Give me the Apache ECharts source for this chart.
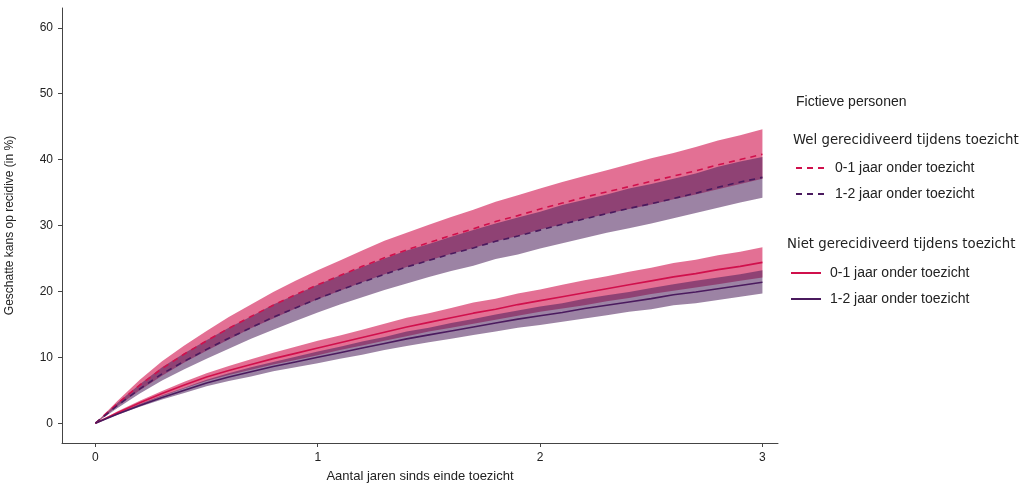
<!DOCTYPE html>
<html>
<head>
<meta charset="utf-8">
<script src="https://cdn.jsdelivr.net/npm/echarts@6/dist/echarts.min.js"></script>
<style>html,body{margin:0;padding:0;background:#fff}#c{width:1021px;height:486px}</style>
</head>
<body>
<div id="c"></div>
<script>
const years = [0,0.1,0.2,0.3,0.4,0.5,0.6,0.7,0.8,0.9,1.0,1.1,1.2,1.3,1.4,1.5,1.6,1.7,1.8,1.9,2.0,2.1,2.2,2.3,2.4,2.5,2.6,2.7,2.8,2.9,3.0];
const xTicks = [0,1,2,3];
const yTicks = [0,10,20,30,40,50,60];

// Wel gerecidiveerd, 0-1 jaar onder toezicht
const wel01 = [0,3.0,5.8,8.3,10.5,12.5,14.4,16.2,17.9,19.5,21.0,22.4,23.8,25.1,26.3,27.4,28.5,29.5,30.6,31.5,32.5,33.4,34.3,35.1,35.9,36.7,37.5,38.3,39.2,40.0,40.8];
const wel01Hi = [0,3.4,6.6,9.4,11.8,14.0,16.1,18.0,19.9,21.6,23.2,24.7,26.2,27.7,28.9,30.1,31.3,32.4,33.6,34.6,35.6,36.6,37.5,38.4,39.3,40.2,41.0,41.9,42.9,43.7,44.6];
const wel01Lo = [0,2.6,5.0,7.2,9.2,11.0,12.7,14.4,15.9,17.4,18.8,20.1,21.4,22.6,23.7,24.7,25.7,26.6,27.6,28.4,29.4,30.2,31.0,31.8,32.5,33.2,34.0,34.7,35.5,36.3,37.1];
// Wel gerecidiveerd, 1-2 jaar onder toezicht
const wel12 = [0,2.7,5.2,7.5,9.4,11.2,12.9,14.5,16.1,17.5,18.9,20.2,21.4,22.6,23.7,24.7,25.7,26.6,27.6,28.4,29.3,30.2,31.0,31.8,32.6,33.3,34.1,34.9,35.8,36.6,37.3];
const wel12Hi = [0,3.1,5.9,8.5,10.6,12.6,14.5,16.2,18.0,19.5,21.0,22.4,23.7,25.0,26.2,27.2,28.3,29.3,30.3,31.2,32.1,33.1,33.9,34.7,35.6,36.3,37.1,37.9,38.9,39.7,40.4];
const wel12Lo = [0,2.3,4.5,6.5,8.2,9.8,11.3,12.8,14.2,15.5,16.8,18.0,19.1,20.2,21.2,22.2,23.1,23.9,24.9,25.6,26.5,27.3,28.1,28.9,29.6,30.3,31.1,31.9,32.7,33.5,34.2];
// Niet gerecidiveerd, 0-1 jaar onder toezicht
const niet01 = [0,1.6,3.1,4.5,5.8,7.0,8.0,8.9,9.8,10.6,11.4,12.2,13.0,13.8,14.6,15.3,16.0,16.7,17.3,18.0,18.6,19.2,19.8,20.4,21.0,21.6,22.2,22.7,23.3,23.8,24.4];
const niet01Hi = [0,1.8,3.4,4.9,6.3,7.6,8.7,9.7,10.7,11.6,12.5,13.3,14.2,15.1,16.0,16.7,17.5,18.3,18.9,19.7,20.3,21.0,21.7,22.3,23.0,23.6,24.3,24.8,25.5,26.0,26.7];
const niet01Lo = [0,1.4,2.8,4.1,5.3,6.4,7.3,8.1,8.9,9.6,10.3,11.1,11.8,12.5,13.2,13.9,14.5,15.1,15.7,16.3,16.9,17.4,17.9,18.5,19.0,19.6,20.1,20.6,21.1,21.6,22.1];
// Niet gerecidiveerd, 1-2 jaar onder toezicht
const niet12 = [0,1.4,2.7,3.9,5.0,6.1,7.0,7.8,8.6,9.3,10.0,10.7,11.4,12.1,12.8,13.4,14.0,14.6,15.2,15.8,16.3,16.8,17.4,17.9,18.4,18.9,19.5,19.9,20.4,20.9,21.4];
const niet12Hi = [0,1.5,2.9,4.2,5.4,6.6,7.6,8.5,9.3,10.1,10.9,11.6,12.4,13.1,13.9,14.5,15.2,15.8,16.5,17.1,17.7,18.2,18.9,19.4,19.9,20.5,21.1,21.6,22.1,22.6,23.2];
const niet12Lo = [0,1.3,2.5,3.6,4.6,5.6,6.4,7.1,7.9,8.5,9.1,9.8,10.4,11.1,11.7,12.3,12.8,13.4,13.9,14.5,14.9,15.4,15.9,16.4,16.9,17.3,17.9,18.2,18.7,19.2,19.7];

const RED = '#d0104c';
const PURPLE = '#4a1a5e';
const PINK_FILL = 'rgba(208,16,76,0.6)';
const PURPLE_FILL = 'rgba(75,30,90,0.55)';

function band(name, hi, lo, fill) {
  return {
    type: 'custom', name: name, silent: true, z: 1,
    data: [[0, 0]],
    renderItem: function (params, api) {
      const pts = [];
      for (let i = 0; i < years.length; i++) pts.push(api.coord([years[i], hi[i]]));
      for (let i = years.length - 1; i >= 0; i--) pts.push(api.coord([years[i], lo[i]]));
      return { type: 'polygon', shape: { points: pts }, style: { fill: fill } };
    }
  };
}
function line(name, vals, color, dashed) {
  return {
    type: 'line', name: name, z: 3,
    data: years.map((x, i) => [x, vals[i]]),
    showSymbol: false, symbol: 'none',
    lineStyle: { color: color, width: 1.6, type: dashed ? [6, 5] : 'solid' },
    itemStyle: { color: color },
    animation: false
  };
}

const chart = echarts.init(document.getElementById('c'), null, { renderer: 'canvas' });
const axisFont = "'Liberation Sans Narrow', 'Liberation Sans', Arial, sans-serif";
const legendText = { color: '#222', fontSize: 14, fontFamily: "'Liberation Sans', Arial, sans-serif", padding: [0, 0, 0, 4] };
chart.setOption({
  animation: false,
  backgroundColor: '#fff',
  grid: { left: 62, right: 243, top: 8, bottom: 43, containLabel: false, outerBoundsMode: 'none' },
  xAxis: {
    type: 'value', min: -0.15, max: 3.07,
    name: 'Aantal jaren sinds einde toezicht', nameLocation: 'middle', nameGap: 27,
    nameTextStyle: { color: '#222', fontSize: 13, fontFamily: axisFont },
    axisLine: { onZero: false, lineStyle: { color: '#444', width: 1 } },
    axisTick: { show: true, length: 4, lineStyle: { color: '#444' }, customValues: xTicks },
    axisLabel: { color: '#222', fontSize: 12, fontFamily: axisFont, margin: 9, customValues: xTicks },
    splitLine: { show: false }
  },
  yAxis: {
    type: 'value', min: -3, max: 63,
    name: 'Geschatte kans op recidive (in %)', nameLocation: 'middle', nameGap: 46, nameRotate: 90,
    nameTextStyle: { color: '#222', fontSize: 12, fontFamily: "'Liberation Sans', Arial, sans-serif" },
    axisLine: { show: true, onZero: false, lineStyle: { color: '#444', width: 1 } },
    axisTick: { show: true, length: 4, lineStyle: { color: '#444' }, customValues: yTicks },
    axisLabel: { color: '#222', fontSize: 12, fontFamily: axisFont, margin: 9, customValues: yTicks },
    splitLine: { show: false }
  },
  legend: [
    {
      data: ['wel01', 'wel12'], orient: 'vertical', left: 790, top: 156,
      itemWidth: 30, itemHeight: 14, itemGap: 12,
      itemStyle: { color: 'rgba(0,0,0,0)', borderWidth: 0, opacity: 0 },
      formatter: n => n === 'wel01' ? '0-1 jaar onder toezicht' : '1-2 jaar onder toezicht',
      textStyle: legendText
    },
    {
      data: ['niet01', 'niet12'], orient: 'vertical', left: 785, top: 261,
      itemWidth: 30, itemHeight: 14, itemGap: 12,
      itemStyle: { color: 'rgba(0,0,0,0)', borderWidth: 0, opacity: 0 },
      formatter: n => n === 'niet01' ? '0-1 jaar onder toezicht' : '1-2 jaar onder toezicht',
      textStyle: legendText
    }
  ],
  graphic: [
    { type: 'text', left: 796, top: 95, style: { text: 'Fictieve personen', fill: '#222', font: "14px 'Liberation Sans', Arial, sans-serif" } },
    { type: 'text', left: 793, top: 134, style: { text: 'Wel gerecidiveerd tijdens toezicht', fill: '#222', font: "13.3px 'DejaVu Sans', sans-serif" } },
    { type: 'text', left: 787, top: 238, style: { text: 'Niet gerecidiveerd tijdens toezicht', fill: '#222', font: "13.3px 'DejaVu Sans', sans-serif" } }
  ],
  series: [
    band('wel01band', wel01Hi, wel01Lo, PINK_FILL),
    band('niet01band', niet01Hi, niet01Lo, PINK_FILL),
    band('wel12band', wel12Hi, wel12Lo, PURPLE_FILL),
    band('niet12band', niet12Hi, niet12Lo, PURPLE_FILL),
    line('wel01', wel01, RED, true),
    line('wel12', wel12, PURPLE, true),
    line('niet01', niet01, RED, false),
    line('niet12', niet12, PURPLE, false)
  ]
});
</script>
</body>
</html>
